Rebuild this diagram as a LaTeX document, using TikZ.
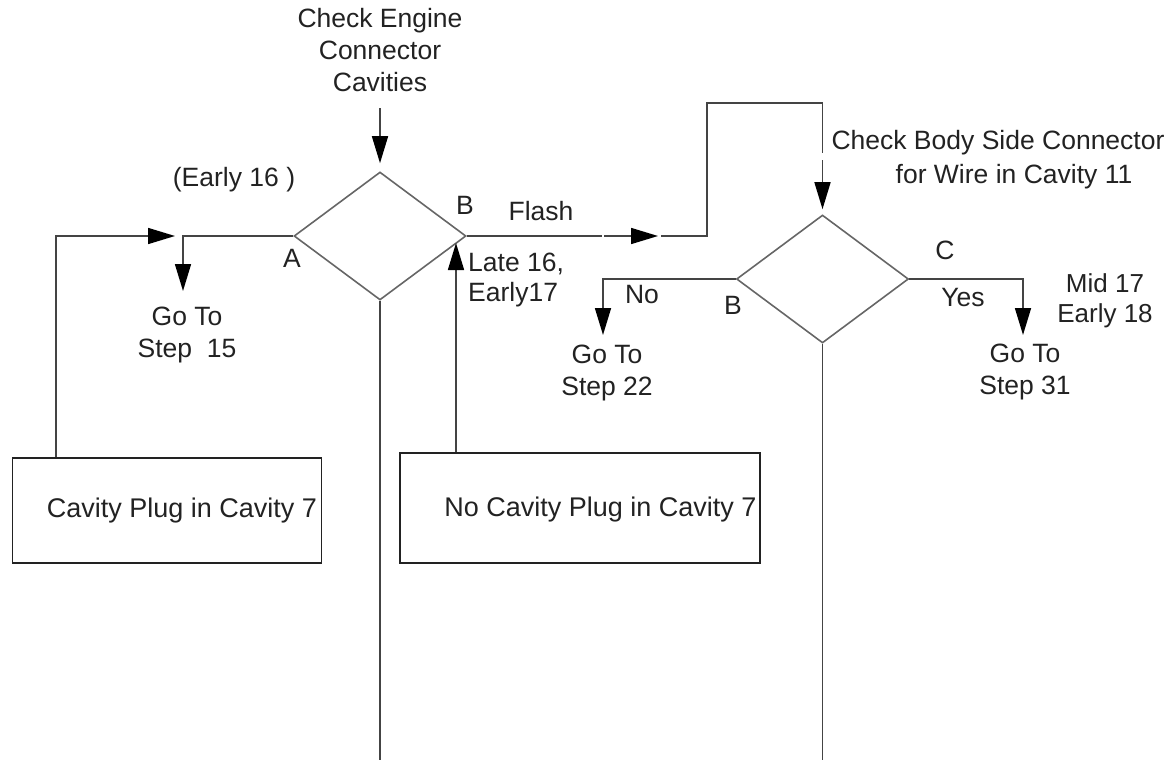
\documentclass[tikz,border=0pt]{standalone}
\usepackage{fontspec}
\setmainfont{Liberation Sans}
\usetikzlibrary{shapes.geometric,arrows.meta}
\definecolor{txt}{HTML}{222222}
\definecolor{lin}{HTML}{444444}
\definecolor{dia}{HTML}{666666}
\begin{document}
\begin{tikzpicture}[x=1pt,y=-1pt,
  lbl/.style={inner sep=0pt, align=center, text=txt, font=\fontsize{26.5}{32}\selectfont},
  decision/.style={diamond, draw=dia, line width=1.6pt, minimum width=172pt, minimum height=128pt, inner sep=0pt},
  stepbox/.style={rectangle, draw=txt, line width=1.4pt, inner sep=0pt},
  conn/.style={draw=lin, line width=1.6pt},
  arr/.style={conn, -{Triangle[length=27pt,width=16pt,color=black]}}
]
\useasboundingbox (0,0) rectangle (1170,760);
\coordinate (bot) at (0,760);

% shapes
\node[decision] (d1) at (380,236) {};
\node[decision] (d2) at (822.5,279) {};
\node[stepbox, minimum width=309pt, minimum height=105pt] (b1) at (167,510.5) {};
\node[stepbox, minimum width=360pt, minimum height=110pt] (b2) at (580,508) {};

% texts
\node[lbl] (tt) at (380,50.5) {Check Engine\\Connector\\Cavities};
\node[lbl, anchor=east, font=\fontsize{27}{32}\selectfont] (t1) at ([xshift=-5pt]b1.east) {Cavity Plug in Cavity 7};
\node[lbl, anchor=east, font=\fontsize{27}{32}\selectfont] (t2) at ([xshift=-4pt,yshift=-2pt]b2.east) {No Cavity Plug in Cavity 7};
\node[lbl] (e16) at (234,180) {(Early 16 )};
\node[lbl] (la) at (292,258) {A};
\node[lbl] (lb1) at (465,205) {B};
\node[lbl] (fl) at (541,211.5) {Flash};
\node[lbl, anchor=west, align=left, font=\fontsize{26.5}{30}\selectfont] (late) at (468,280) {Late 16,\\Early17};
\node[lbl] (g15) at (187,335) {Go To\\Step\ \ 15};
\node[lbl] (no) at (642,295) {No};
\node[lbl] (lb2) at (733,305) {B};
\node[lbl] (g22) at (607,373) {Go To\\Step 22};
\node[lbl] (lc) at (945,250) {C};
\node[lbl] (yes) at (963,298) {Yes};
\node[lbl] (g31) at (1025,372) {Go To\\Step 31};
\node[lbl, font=\fontsize{26}{30}\selectfont] (m17) at (1105,301) {Mid 17\\Early 18};
\node[lbl, font=\fontsize{26.5}{34}\selectfont] (cb) at (998,160) {Check Body Side Connector\\\hspace*{32pt}for Wire in Cavity 11};

% coordinates
\coordinate (j1) at (183,236);
\coordinate (j1d) at (183,291);
\coordinate (c1) at (56,236);
\coordinate (c1t) at (175,236);
\coordinate (c2) at (456,243);
\coordinate (f1) at (602,236);
\coordinate (f2) at (604,236);
\coordinate (f3) at (658,236);
\coordinate (f4) at (661,236);
\coordinate (f5) at (707,236);
\coordinate (f6) at (707,103);
\coordinate (f7) at (822.5,103);
\coordinate (f8) at (822.5,153);
\coordinate (f9) at (822.5,160);
\coordinate (n1) at (603,279);
\coordinate (n2) at (603,335);
\coordinate (y1) at (1023,279);
\coordinate (y2) at (1023,335);

% connectors
\draw[arr, shorten >=8pt] ([yshift=-16pt]tt.south) -- (d1.north);
\draw[arr] (d1.west) -- (j1) -- (j1d);
\draw[arr] (b1.north -| c1) -- (c1) -- (c1t);
\draw[arr] (b2.north -| c2) -- (c2);
\draw[conn] (d1.east) -- (f1);
\draw[arr] (f2) -- (f3);
\draw[conn] (f4) -- (f5) -- (f6) -- (f7) -- (f8);
\draw[arr, shorten >=5pt] (f9) -- (d2.north);
\draw[arr] (d2.west) -- (n1) -- (n2);
\draw[arr] (d2.east) -- (y1) -- (y2);
\draw[conn] (d1.south) -- (d1.south |- bot);
\draw[conn] (d2.south) -- (d2.south |- bot);
\end{tikzpicture}
\end{document}
